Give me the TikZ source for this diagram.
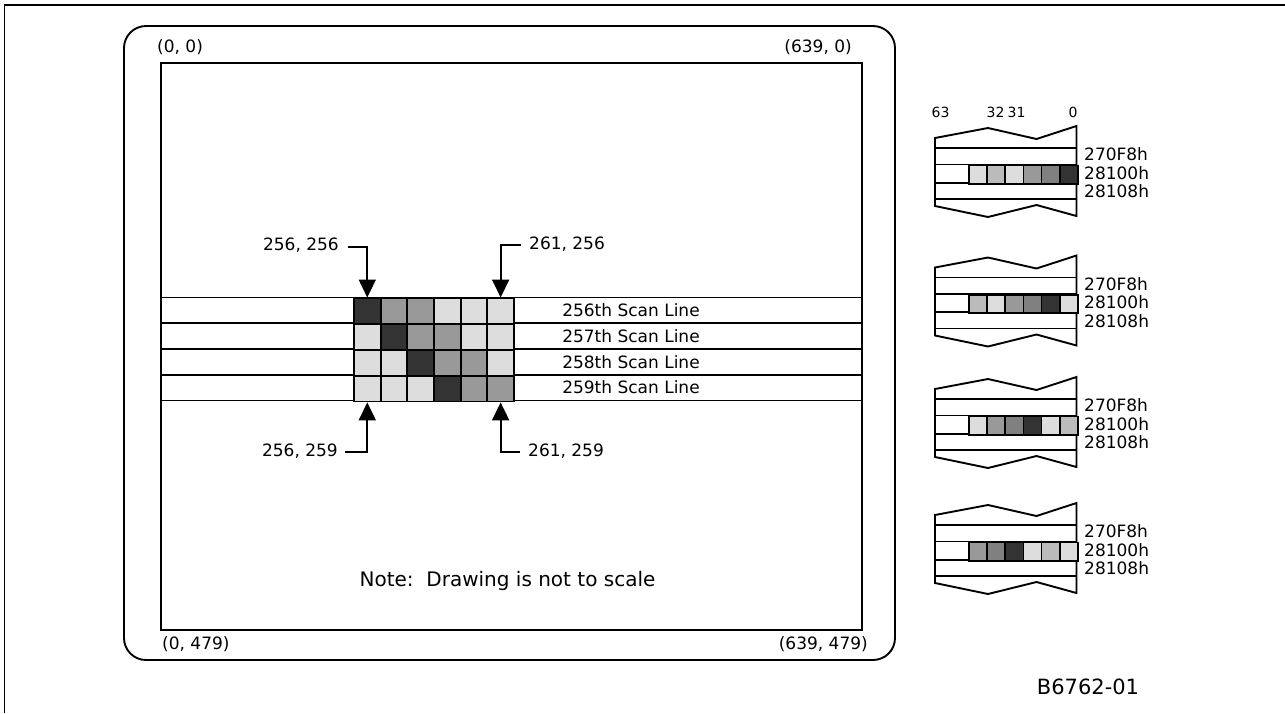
\documentclass[tikz,border=0pt]{standalone}
\usepackage{fontspec}
\setmainfont{DejaVu Sans}
\usetikzlibrary{arrows.meta}
\definecolor{pxdark}{HTML}{333333}
\definecolor{pxgray}{HTML}{808080}
\definecolor{pxmid}{HTML}{999999}
\definecolor{pxsilver}{HTML}{BBBBBB}
\definecolor{pxlight}{HTML}{DDDDDD}
\begin{document}
\begin{tikzpicture}[x=1pt,y=-1pt,
  ln/.style={line width=1.9pt},
  lbl/.style={font=\fontsize{17}{19}\selectfont, inner sep=0pt},
  bitlbl/.style={font=\fontsize{14}{16}\selectfont, inner sep=0pt},
  gcell/.style={draw, line width=1.9pt, minimum width=26.67pt, minimum height=25.75pt, inner sep=0pt, anchor=north west},
  mcell/.style={draw, line width=1.9pt, minimum width=18.07pt, minimum height=18.3pt, inner sep=0pt, anchor=north west},
  arr/.style={line width=1.9pt, -{Triangle[width=17pt,length=18pt]}}]
\useasboundingbox (0,0) rectangle (1285,713);
% outer frame
\draw[ln] (4.5,713) -- (4.5,5) -- (1285,5);
% screen
\draw[ln, rounded corners=22pt] (124,26) rectangle (895,660);
\draw[ln] (161,63) rectangle (862,630);
\node[lbl, anchor=west] (tl) at (157,47) {(0, 0)};
\node[lbl, anchor=east] (tr) at (852,47) {(639, 0)};
\node[lbl, anchor=west] (bl) at (162,644) {(0, 479)};
\node[lbl, anchor=east] (br) at (868,644) {(639, 479)};
% scan lines
\foreach \k in {0,...,4}{
  \draw[ln] (161,{297.5+\k*25.75}) -- (862,{297.5+\k*25.75});
}
\foreach \r/\cols/\nm in {0/{pxdark,pxmid,pxmid,pxlight,pxlight,pxlight}/256th,
                         1/{pxlight,pxdark,pxmid,pxmid,pxlight,pxlight}/257th,
                         2/{pxlight,pxlight,pxdark,pxmid,pxmid,pxlight}/258th,
                         3/{pxlight,pxlight,pxlight,pxdark,pxmid,pxmid}/259th}{
  \foreach \c [count=\i] in \cols {
    \node[gcell, fill=\c] (g\r\i) at ({353+(\i-1)*26.67},{297.5+\r*25.75}) {};
  }
  \node[lbl] (s\r) at (631,{297.5+(\r+0.5)*25.75}) {\nm\ Scan Line};
}
% pixel labels and arrows
\node[lbl, anchor=east] (a1) at (339,245) {256, 256};
\node[lbl, anchor=west] (a2) at (529,244) {261, 256};
\node[lbl, anchor=east] (a3) at (338,451) {256, 259};
\node[lbl, anchor=west] (a4) at (528,451) {261, 259};
\draw[arr] ([xshift=9pt,yshift=-2pt]a1.east) -| (g01.north);
\draw[arr] ([xshift=-8pt,yshift=-1pt]a2.west) -| (g06.north);
\draw[arr] ([xshift=7pt,yshift=-1pt]a3.east) -| (g31.south);
\draw[arr] ([xshift=-8pt,yshift=-1pt]a4.west) -| (g36.south);
\node[lbl, font=\fontsize{20}{23}\selectfont] (note) at (507.5,581) {Note:\ \ Drawing is not to scale};
% memory diagrams
\node[bitlbl] (b63) at (940.5,112) {63};
\node[bitlbl] (b32) at (995.5,112) {32};
\node[bitlbl] (b31) at (1016.5,112) {31};
\node[bitlbl] (b0) at (1073,112) {0};
\foreach \L/\cols [count=\k] in {148/{pxlight,pxsilver,pxlight,pxmid,pxgray,pxdark},
                     277.5/{pxsilver,pxlight,pxmid,pxgray,pxdark,pxlight},
                     399/{pxlight,pxmid,pxgray,pxdark,pxlight,pxsilver},
                     525/{pxmid,pxgray,pxdark,pxlight,pxsilver,pxlight}}{
  \draw[ln, line join=miter] (935,\L-10) -- (988,\L-20) -- (1036.5,\L-9) -- (1076.5,\L-22)
     -- (1076.5,\L+68) -- (1036.5,\L+57) -- (988,\L+69) -- (935,\L+58) -- cycle;
  \draw[ln] (935,\L) -- (1076.5,\L);
  \draw[ln] (935,\L+16.5) -- (1076.5,\L+16.5);
  \draw[ln] (935,\L+34.8) -- (1076.5,\L+34.8);
  \draw[ln] (935,\L+51) -- (1076.5,\L+51);
  \foreach \c [count=\i] in \cols {
    \node[mcell, fill=\c] (m\k\i) at ({968.3+(\i-1)*18.07},\L+16.5) {};
  }
  \node[lbl, anchor=west] (ra\k) at (1084,\L+6.5) {270F8h};
  \node[lbl, anchor=west] (rb\k) at (1084,\L+25) {28100h};
  \node[lbl, anchor=west] (rc\k) at (1084,\L+43.5) {28108h};
}
\node[lbl, font=\fontsize{21}{24}\selectfont] (fig) at (1088,687) {B6762-01};
\end{tikzpicture}
\end{document}
